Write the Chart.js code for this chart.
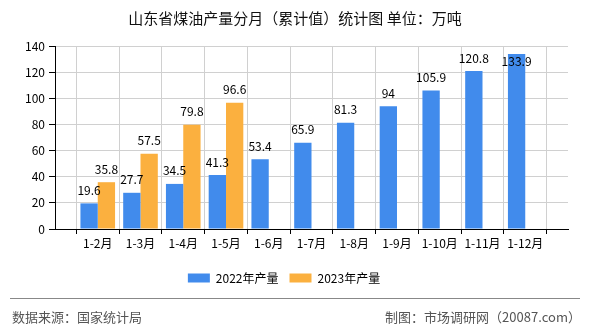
<!DOCTYPE html>
<html>
<head>
<meta charset="utf-8">
<script src="https://cdn.jsdelivr.net/npm/chart.js@4"></script>
<style>
  html, body { margin: 0; padding: 0; background: #fff; }
  #wrap { position: relative; width: 590px; height: 330px; overflow: hidden; }
  #c { position: absolute; left: 0; top: 0; }
  .txt { position: absolute; font-family: "Noto Sans CJK SC", "Liberation Sans", sans-serif; white-space: nowrap; }
  #title { left: 0; width: 590px; top: 8px; text-align: center; font-size: 15px; color: #111; line-height: 20px; }
  #sep { position: absolute; left: 10px; width: 570px; top: 298px; height: 0; border-top: 1px solid #888; }
  #src { left: 12px; top: 308px; font-size: 13px; color: #555; line-height: 18px; }
  #mk { right: 9px; top: 308px; font-size: 13px; color: #555; line-height: 18px; }
</style>
</head>
<body>
<div id="wrap">
  <canvas id="c" width="590" height="330"></canvas>
  <div id="title" class="txt">山东省煤油产量分月（累计值）统计图 单位：万吨</div>
  <div id="sep"></div>
  <div id="src" class="txt">数据来源：国家统计局</div>
  <div id="mk" class="txt">制图：市场调研网（20087.com）</div>
</div>
<script>
const categories = ['1-2月','1-3月','1-4月','1-5月','1-6月','1-7月','1-8月','1-9月','1-10月','1-11月','1-12月'];
const series2022 = [19.6, 27.7, 34.5, 41.3, 53.4, 65.9, 81.3, 94, 105.9, 120.8, 133.9];
const series2023 = [35.8, 57.5, 79.8, 96.6, null, null, null, null, null, null, null];
const seriesNames = ['2022年产量', '2023年产量'];
const yTicks = { min: 0, max: 140, step: 20 };

const labels = [''].concat(categories, ['']);
const pad = arr => [null].concat(arr, [null]);

const FONT = '"Noto Sans CJK SC", "Liberation Sans", sans-serif';

const valueLabels = {
  id: 'valueLabels',
  afterDatasetsDraw(chart) {
    const ctx = chart.ctx;
    const area = chart.chartArea;
    ctx.save();
    ctx.font = '12px ' + FONT;
    ctx.fillStyle = '#000';
    ctx.textAlign = 'center';
    ctx.textBaseline = 'middle';
    chart.data.datasets.forEach((ds, di) => {
      const meta = chart.getDatasetMeta(di);
      meta.data.forEach((el, i) => {
        const v = ds.data[i];
        if (v === null || v === undefined) return;
        let y = el.y - 13;
        if (y < area.top + 6) y = area.top + 15;
        ctx.fillText(String(v), el.x, y);
      });
    });
    ctx.restore();
  }
};

new Chart(document.getElementById('c'), {
  type: 'bar',
  data: {
    labels: labels,
    datasets: [
      { label: seriesNames[0], data: pad(series2022), backgroundColor: '#418BEC', borderWidth: 0 },
      { label: seriesNames[1], data: pad(series2023), backgroundColor: '#FBB03F', borderWidth: 0 }
    ]
  },
  options: {
    responsive: false,
    animation: false,
    devicePixelRatio: 1,
    layout: { padding: { left: 0, right: 22, top: 46, bottom: 36 } },
    datasets: { bar: { categoryPercentage: 0.81, barPercentage: 1 } },
    plugins: {
      title: { display: false },
      tooltip: { enabled: false },
      legend: {
        display: true,
        position: 'bottom',
        labels: {
          boxWidth: 22,
          boxHeight: 9,
          padding: 11,
          color: '#000',
          font: { size: 12, family: FONT }
        }
      }
    },
    scales: {
      x: {
        offset: false,
        grid: { display: true, color: '#d0d0d0', lineWidth: 1, drawTicks: true, tickLength: 5, tickColor: '#000' },
        border: { display: true, color: '#000', width: 1 },
        ticks: { color: '#000', font: { size: 12, family: FONT }, padding: 2, autoSkip: false, maxRotation: 0 },
        afterFit(s) { s.height = 32; }
      },
      y: {
        min: yTicks.min,
        max: yTicks.max,
        grid: { color: '#d0d0d0', lineWidth: 1, drawTicks: true, tickLength: 6, tickColor: '#000' },
        border: { display: true, color: '#000', width: 1 },
        ticks: { stepSize: yTicks.step, color: '#000', font: { size: 12, family: FONT }, padding: 4 },
        afterFit(s) { s.width = 55; }
      }
    }
  },
  plugins: [valueLabels]
});
</script>
</body>
</html>
